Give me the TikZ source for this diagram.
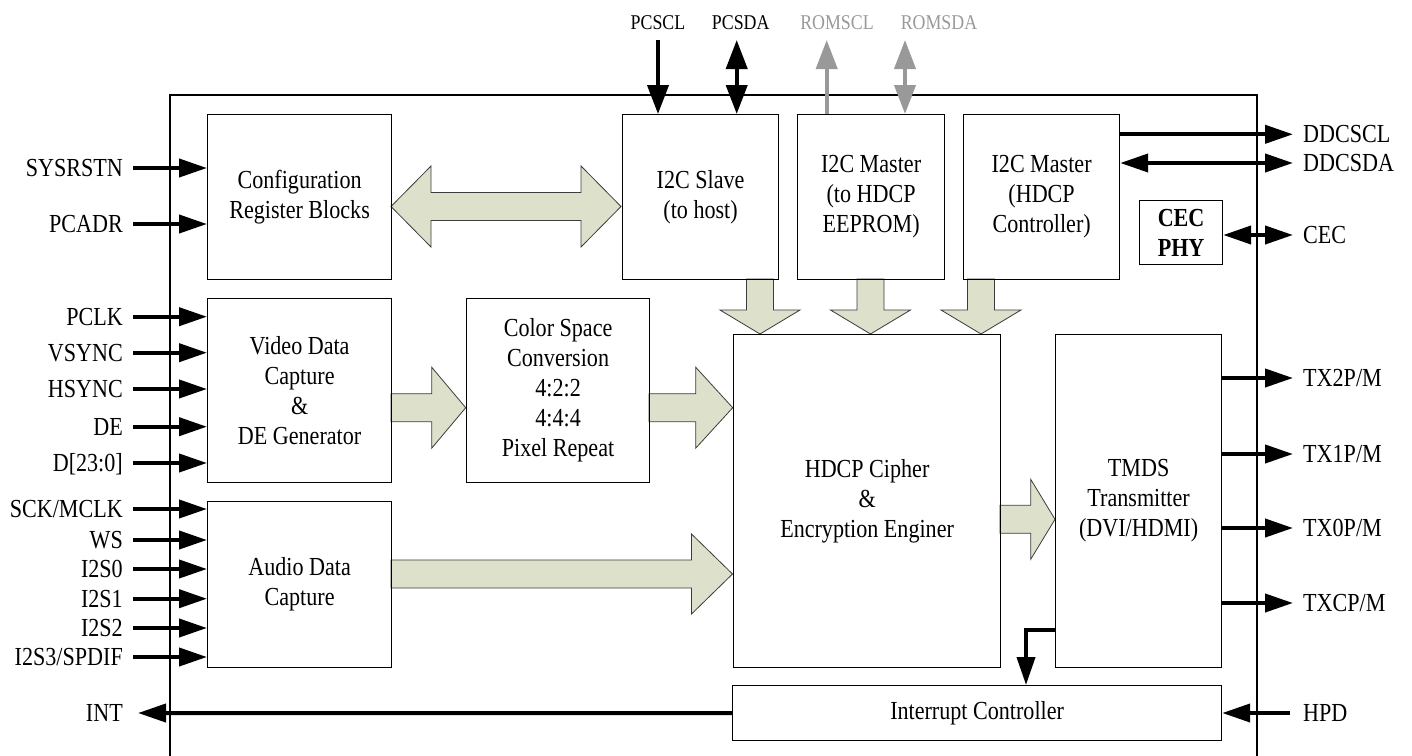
\documentclass[tikz,border=0pt]{standalone}
\usepackage{fontspec}
\setmainfont{Liberation Serif}[FakeStretch=0.85]
\usetikzlibrary{arrows.meta}
\definecolor{blkfill}{RGB}{221,225,204}
\definecolor{blkline}{RGB}{60,60,60}
\definecolor{sgray}{RGB}{153,153,153}
\tikzset{
  bigtri/.tip={Triangle[length=28pt,width=18pt]},
  toptri/.tip={Triangle[length=29pt,width=21pt]},
  box/.style={draw, line width=1.2pt, inner sep=0pt, align=center, font=\fontsize{26}{30}\selectfont},
  lbl/.style={inner sep=1pt, text height=17pt, text depth=0pt, font=\fontsize{26}{30}\selectfont},
  toplbl/.style={inner sep=0pt, anchor=base, font=\fontsize{21}{24}\selectfont},
  sig/.style={line width=4pt, -bigtri},
  sigb/.style={line width=4pt, bigtri-bigtri},
  topsig/.style={line width=4pt, -toptri},
  topsigb/.style={line width=4pt, toptri-toptri},
  blk/.style={draw=blkline, fill=blkfill, line width=0.8pt, line join=miter},
}
\newcommand{\barR}[5]{%
  \filldraw[blk] ({#1},{#3-14}) -- ({#2-#4},{#3-14}) -- ({#2-#4},{#3-#5}) -- ({#2},{#3}) -- ({#2-#4},{#3+#5}) -- ({#2-#4},{#3+14}) -- ({#1},{#3+14}) -- cycle;}
\newcommand{\barD}[4]{%
  \filldraw[blk] ({#1-13.5},{#2}) -- ({#1-13.5},{#3-#4}) -- ({#1-40},{#3-#4}) -- ({#1},{#3}) -- ({#1+40},{#3-#4}) -- ({#1+13.5},{#3-#4}) -- ({#1+13.5},{#2}) -- cycle;}
\newcommand{\insig}[4]{%
  \coordinate (#2) at (133,#1);
  \node[lbl, anchor=east] (#2l) at (124,#1) {#3};
  \draw[sig] (#2) -- (#2 -| #4.west);}
\newcommand{\outsig}[4]{%
  \coordinate (#2) at (1293,#1);
  \node[lbl, anchor=west] (#2l) at (1302,#1) {#3};
  \draw[sig] (#2 -| #4.east) -- (#2);}
\begin{document}
\begin{tikzpicture}[x=1pt,y=-1pt]
\useasboundingbox (0,0) rectangle (1412,755);

% outer chip boundary
\draw[line width=1.2pt] (170,760) -- (170,95) -- (1257,95) -- (1257,760);

% block arrows
\filldraw[blk] (391,206.5) -- (431,166) -- (431,192.5) -- (581,192.5) -- (581,166) -- (621,206.5)
   -- (581,247) -- (581,220.5) -- (431,220.5) -- (431,247) -- cycle;
\barR{391}{465.7}{407.7}{34}{40.5}
\barR{649}{732.7}{407.7}{37}{40.5}
\barR{391}{732.5}{574}{41}{40}
\barR{1000}{1055}{519.3}{24.3}{40}
\barD{760}{279}{334}{24}
\barD{870.5}{279}{334}{24}
\barD{981}{279}{334}{24}

% blocks
\node[box, anchor=north west, minimum width=184pt, minimum height=165pt] (cfg) at (207,114) {Configuration\\Register Blocks};
\node[box, anchor=north west, minimum width=156pt, minimum height=165pt] (slave) at (622,114) {I2C Slave\\(to host)};
\node[box, anchor=north west, minimum width=147pt, minimum height=165pt] (eeprom) at (797,114) {I2C Master\\(to HDCP\\EEPROM)};
\node[box, anchor=north west, minimum width=156pt, minimum height=165pt] (hdcpc) at (963,114) {I2C Master\\(HDCP\\Controller)};
\node[box, anchor=north west, minimum width=83pt, minimum height=64pt, font=\fontsize{26}{30}\selectfont\bfseries] (cec) at (1139,200) {CEC\\PHY};
\node[box, anchor=north west, minimum width=184pt, minimum height=184pt] (video) at (207,298) {Video Data\\Capture\\\&\\DE Generator};
\node[box, anchor=north west, minimum width=183pt, minimum height=184pt] (csc) at (466,298) {Color Space\\Conversion\\4:2:2\\4:4:4\\Pixel Repeat};
\node[box, anchor=north west, minimum width=184pt, minimum height=166pt] (audio) at (207,501) {Audio Data\\Capture};
\node[box, anchor=north west, minimum width=267pt, minimum height=333pt] (hdcp) at (733,334) {HDCP Cipher\\\&\\Encryption Enginer};
\node[box, anchor=north west, minimum width=166pt, minimum height=333pt] (tmds) at (1055,334) {TMDS\\Transmitter\\(DVI/HDMI)};
\node[box, anchor=north west, minimum width=489pt, minimum height=55pt] (intc) at (732,685) {Interrupt Controller};

% left inputs
\insig{168}{sysrstn}{SYSRSTN}{cfg}
\insig{224}{pcadr}{PCADR}{cfg}
\insig{316.7}{pclk}{PCLK}{video}
\insig{352.7}{vsync}{VSYNC}{video}
\insig{389}{hsync}{HSYNC}{video}
\insig{426.7}{de}{DE}{video}
\insig{463}{dbus}{D[23:0]}{video}
\insig{509}{sck}{SCK/MCLK}{audio}
\insig{540}{ws}{WS}{audio}
\insig{569}{isa}{I2S0}{audio}
\insig{598.7}{isb}{I2S1}{audio}
\insig{628}{isc}{I2S2}{audio}
\insig{657}{isd}{I2S3/SPDIF}{audio}

% INT output
\coordinate (intend) at (138,713);
\node[lbl, anchor=east] (intl) at (124,713) {INT};
\draw[sig] (intc.west) -- (intend);

% top signals
\node[toplbl] (pcscll) at (658,29.5) {PCSCL};
\node[toplbl] (pcsdal) at (740.7,29.5) {PCSDA};
\node[toplbl, text=sgray] (romscll) at (837,29.5) {ROMSCL};
\node[toplbl, text=sgray] (romsdal) at (939,29.5) {ROMSDA};
\coordinate (pcscl) at (658,40);
\coordinate (pcsda) at (736.7,40);
\coordinate (romscl) at (826.7,40);
\coordinate (romsda) at (905,40);
\draw[topsig] (pcscl) -- (pcscl |- slave.north);
\draw[topsigb] (pcsda) -- (pcsda |- slave.north);
\draw[topsig, draw=sgray, fill=sgray] (romscl |- eeprom.north) -- (romscl);
\draw[topsigb, draw=sgray, fill=sgray] (romsda) -- (romsda |- eeprom.north);

% right outputs
\outsig{134.3}{ddcscl}{DDCSCL}{hdcpc}
\coordinate (ddcsda) at (1293,163);
\node[lbl, anchor=west] (ddcsdal) at (1302,163) {DDCSDA};
\draw[sigb] (ddcsda -| hdcpc.east) -- (ddcsda);
\coordinate (cecp) at (1293,235);
\node[lbl, anchor=west] (cecl) at (1302,235) {CEC};
\draw[sigb] (cecp -| cec.east) -- (cecp);
\outsig{378}{txa}{TX2P/M}{tmds}
\outsig{454}{txb}{TX1P/M}{tmds}
\outsig{528}{txc}{TX0P/M}{tmds}
\outsig{603}{txd}{TXCP/M}{tmds}
\coordinate (hpd) at (1290,713);
\node[lbl, anchor=west] (hpdl) at (1302,713) {HPD};
\draw[sig] (hpd) -- (hpd -| intc.east);

% TMDS to interrupt controller
\coordinate (tmout) at (1055,630);
\coordinate (intin) at (1026,685);
\draw[sig, line join=miter] (tmout) -| (intin);
\end{tikzpicture}
\end{document}
